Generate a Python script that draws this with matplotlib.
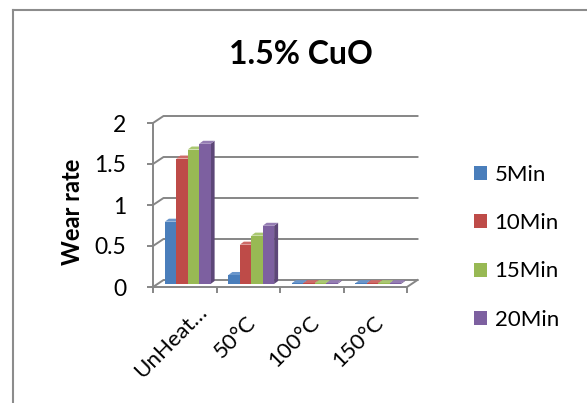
import numpy as np
import matplotlib
matplotlib.use('Agg')
import matplotlib.pyplot as plt
import matplotlib.transforms as mtransforms
from matplotlib.patches import Polygon
from matplotlib.lines import Line2D

plt.rcParams['font.family'] = ['Lato', 'DejaVu Sans']

categories = ['UnHeat…', '50°C', '100°C', '150°C']
series = ['5Min', '10Min', '15Min', '20Min']
wear_5 = [0.76, 0.11, 0.01, 0.01]
wear_10 = [1.53, 0.48, 0.01, 0.01]
wear_15 = [1.64, 0.59, 0.01, 0.01]
wear_20 = [1.71, 0.71, 0.01, 0.01]
yticks = [0, 0.5, 1, 1.5, 2]

front_col = ['#4a7ebb', '#be4b48', '#98b954', '#7d60a0']
side_col = ['#37618f', '#8f3735', '#728c3f', '#5d4778']
top_col = ['#6a96cb', '#cd6a67', '#aac871', '#957db3']
grid_col = '#868686'

W, H = 587, 403
fig = plt.figure(figsize=(W / 100, H / 100), dpi=100)
ax = fig.add_axes([153 / W, 116 / H, 254 / W, 164 / H])
ax.set_xlim(-0.5, 3.5)
ax.set_ylim(0, 2)

# pixels per data unit, used for the fake 3d depth offsets
ux = 254 / 4
uy = 164 / 2


def shift(px, py):
    return px / ux, py / uy


# back wall gridlines with the side wall diagonals
wdx, wdy = shift(10.5, 7)
for y in yticks:
    ax.plot([-0.5, -0.5 + wdx, 3.5 + wdx], [y, y + wdy, y + wdy],
            color=grid_col, lw=1.4, clip_on=False, zorder=1)
ax.plot([3.5, 3.5 + wdx], [0, wdy], color=grid_col, lw=1.4,
        clip_on=False, zorder=1)

# bars
x = np.arange(len(categories))
w = 0.18
bdx, bdy = shift(3, 3)
ddx, ddy = shift(4, 3)
handles = []
for j, vals in enumerate([wear_5, wear_10, wear_15, wear_20]):
    xs = x + (j - 1.5) * w + bdx
    bars = ax.bar(xs, vals, width=w, bottom=bdy, color=front_col[j],
                  zorder=3 * j + 5, label=series[j])
    handles.append(bars)
    for xc, v in zip(xs, vals):
        x0, x1 = xc - w / 2, xc + w / 2
        t = bdy + v
        ax.add_patch(Polygon([(x1, bdy), (x1 + ddx, bdy + ddy),
                              (x1 + ddx, t + ddy), (x1, t)],
                             closed=True, facecolor=side_col[j],
                             edgecolor='none', zorder=3 * j + 4))
        ax.add_patch(Polygon([(x0, t), (x1, t), (x1 + ddx, t + ddy),
                              (x0 + ddx, t + ddy)],
                             closed=True, facecolor=top_col[j],
                             edgecolor='none', zorder=3 * j + 4))

# axes
for s in ['top', 'right']:
    ax.spines[s].set_visible(False)
for s in ['left', 'bottom']:
    ax.spines[s].set_color(grid_col)
    ax.spines[s].set_linewidth(1.4)
ax.set_yticks(yticks)
ax.set_yticklabels(['0', '0.5', '1', '1.5', '2'])
ax.tick_params(axis='y', length=4.3, width=1.4, color=grid_col,
               labelsize=16.5, pad=15)
ax.set_xticks(np.arange(-0.5, 4, 1))
ax.set_xticklabels([])
ax.tick_params(axis='x', which='major', length=4.3, width=1.4,
               color=grid_col)
ax.set_xticks(x, minor=True)
ax.set_xticklabels(categories, minor=True, rotation=45, ha='right',
                   va='top', rotation_mode='anchor', fontsize=16)
ax.tick_params(axis='x', which='minor', length=0, pad=18)
# the truncated first label sits further along its slant
for i, lab in enumerate(ax.get_xticklabels(minor=True)):
    dx, dy = (12, 10) if i == 0 else (-2, 0)
    nudge = mtransforms.ScaledTranslation(dx / 100, dy / 100,
                                          fig.dpi_scale_trans)
    lab.set_transform(lab.get_transform() + nudge)

fig.text(72 / W, 1 - 212 / H, 'Wear rate', rotation=90, ha='center',
         va='center', fontsize=17, fontweight='bold')
fig.text(301 / W, 1 - 55 / H, '1.5% CuO', ha='center', va='center',
         fontsize=23, fontweight='bold')

fig.legend(handles, series, loc='upper left',
           bbox_to_anchor=(454 / W, 1 - 145 / H), frameon=False,
           fontsize=16, handlelength=0.58, handleheight=0.58,
           handletextpad=0.35, labelspacing=1.27)

# chart frame
fig.add_artist(Line2D([13 / W, 13 / W], [0, 1 - 10 / H],
                      transform=fig.transFigure, color='#8c8c8c', lw=1.5))
fig.add_artist(Line2D([13 / W, 1], [1 - 10 / H, 1 - 10 / H],
                      transform=fig.transFigure, color='#8c8c8c', lw=1.5))

fig.savefig('out.png', dpi=100)
